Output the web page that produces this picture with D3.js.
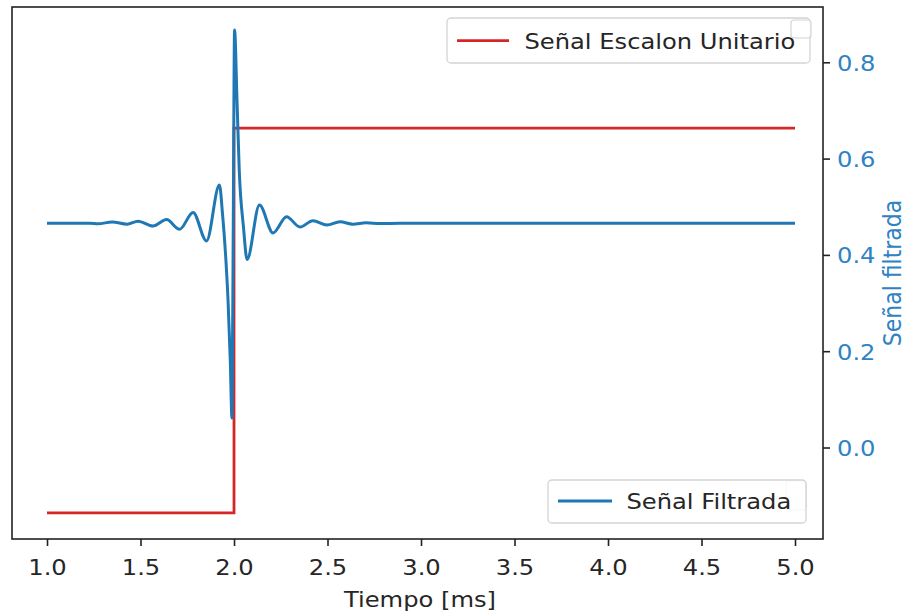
<!DOCTYPE html>
<html>
<head>
<meta charset="utf-8">
<script src="https://cdn.jsdelivr.net/npm/d3@7"></script>
<style>
  html, body { margin: 0; padding: 0; background: #fff; }
  svg { display: block; font-family: "DejaVu Sans", sans-serif; }
</style>
</head>
<body>
<svg id="chart" width="905" height="616"></svg>
<script>
// Time axis (ms)
const timeTicks = [1.0, 1.5, 2.0, 2.5, 3.0, 3.5, 4.0, 4.5, 5.0];
// Right axis ticks (filtered signal)
const filteredTicks = [0.0, 0.2, 0.4, 0.6, 0.8];

// Unit step input
const stepTime = [1.0, 2.0, 5.0];
const stepValue = [0, 1, 1];

// Filtered output (ringing around the step edge)
const filteredTime = [1.000, 1.230, 1.273, 1.348, 1.428, 1.487, 1.567, 1.639, 1.709, 1.781,
  1.853, 1.922, 1.939, 1.955, 1.968, 1.980, 1.989, 1.996, 2.003, 2.016, 2.028, 2.051, 2.070,
  2.136, 2.209, 2.281, 2.353, 2.422, 2.497, 2.567, 2.636, 2.706, 2.781, 2.888, 5.000];
const filteredValue = [0.4656, 0.4656, 0.4646, 0.4685, 0.4638, 0.4700, 0.4600, 0.4735, 0.4532, 0.4881,
  0.4289, 0.5452, 0.4829, 0.3998, 0.3063, 0.1817, 0.0613, 0.4642, 0.8671, 0.7217, 0.5763, 0.4559, 0.3904,
  0.5036, 0.4455, 0.4793, 0.4579, 0.4710, 0.4621, 0.4688, 0.4638, 0.4667, 0.4650, 0.4656, 0.4656];

const seriesLabels = ["Señal Escalon Unitario", "Señal Filtrada"];
const xLabel = "Tiempo [ms]";
const yRightLabel = "Señal filtrada";

const BLUE = "#1f77b4", RED = "#d62728", TXT = "#262626", BLUE_TXT = "#2f83c3";
const FONT = 22, STRETCH = 1.1;

const plot = { left: 12, right: 823, top: 7, bottom: 539 };
const svg = d3.select("#chart");

const x = d3.scaleLinear().domain([0.8128, 5.1497]).range([plot.left, plot.right]);
const yLeft = d3.scaleLinear().domain([-0.068, 1.315]).range([plot.bottom, plot.top]);
const yRight = d3.scaleLinear().domain([-0.19, 0.9148]).range([plot.bottom, plot.top]);

svg.append("defs").append("clipPath").attr("id", "plotclip")
  .append("rect").attr("x", plot.left).attr("y", plot.top)
  .attr("width", plot.right - plot.left).attr("height", plot.bottom - plot.top);

// Step signal (left axis)
const stepData = stepTime.map((t, i) => [t, stepValue[i]]);
svg.append("path").datum(stepData)
  .attr("clip-path", "url(#plotclip)")
  .attr("fill", "none").attr("stroke", RED).attr("stroke-width", 2.8)
  .attr("d", d3.line().x(d => x(d[0])).y(d => yLeft(d[1])).curve(d3.curveStepAfter));

// Legend of the step axis (upper right) and its empty companion box (lower right)
const leg1 = svg.append("g");
leg1.append("rect").attr("x", 447).attr("y", 18).attr("width", 363).attr("height", 45)
  .attr("rx", 4).attr("fill", "#fff").attr("fill-opacity", 0.8)
  .attr("stroke", "#d4d4d4").attr("stroke-width", 1.3);
leg1.append("line").attr("x1", 457).attr("x2", 509).attr("y1", 40.7).attr("y2", 40.7)
  .attr("stroke", RED).attr("stroke-width", 2.8);
leg1.append("text").attr("transform", `translate(524.5,48.5) scale(${STRETCH},1)`)
  .attr("font-size", FONT).attr("fill", TXT).text(seriesLabels[0]);
svg.append("rect").attr("x", 786).attr("y", 481).attr("width", 20).attr("height", 29)
  .attr("rx", 3).attr("fill", "none").attr("stroke", "#d4d4d4").attr("stroke-width", 1.2);

// Filtered signal (right axis)
const filteredData = filteredTime.map((t, i) => [t, filteredValue[i]]);
svg.append("path").datum(filteredData)
  .attr("clip-path", "url(#plotclip)")
  .attr("fill", "none").attr("stroke", BLUE).attr("stroke-width", 3)
  .attr("stroke-linejoin", "round")
  .attr("d", d3.line().x(d => x(d[0])).y(d => yRight(d[1])).curve(d3.curveMonotoneX));

// Legend of the filtered axis (lower right) and its empty companion box (upper right)
const leg2 = svg.append("g");
leg2.append("rect").attr("x", 548).attr("y", 480).attr("width", 258).attr("height", 43)
  .attr("rx", 4).attr("fill", "#fff").attr("fill-opacity", 0.8)
  .attr("stroke", "#d4d4d4").attr("stroke-width", 1.3);
leg2.append("line").attr("x1", 558).attr("x2", 612).attr("y1", 501).attr("y2", 501)
  .attr("stroke", BLUE).attr("stroke-width", 3);
leg2.append("text").attr("transform", `translate(626.5,508.5) scale(${STRETCH},1)`)
  .attr("font-size", FONT).attr("fill", TXT).text(seriesLabels[1]);
svg.append("rect").attr("x", 791).attr("y", 20).attr("width", 20).attr("height", 18)
  .attr("rx", 3).attr("fill", "#fff").attr("fill-opacity", 0.8)
  .attr("stroke", "#d4d4d4").attr("stroke-width", 1.2);

// Frame
svg.append("rect").attr("x", plot.left).attr("y", plot.top)
  .attr("width", plot.right - plot.left).attr("height", plot.bottom - plot.top)
  .attr("fill", "none").attr("stroke", "#222").attr("stroke-width", 1.6);

// Bottom axis
const xAxis = svg.append("g").attr("transform", `translate(0,${plot.bottom})`)
  .call(d3.axisBottom(x).tickValues(timeTicks).tickFormat(d3.format(".1f"))
    .tickSize(7).tickSizeOuter(0));
xAxis.select(".domain").remove();
xAxis.selectAll(".tick line").attr("stroke", "#222").attr("stroke-width", 1.6);
xAxis.selectAll(".tick text")
  .attr("y", 0).attr("dy", null)
  .attr("transform", `translate(0,36) scale(${STRETCH},1)`)
  .attr("font-size", FONT).attr("font-family", "DejaVu Sans").attr("fill", TXT);

// Right axis
const yAxis = svg.append("g").attr("transform", `translate(${plot.right},0)`)
  .call(d3.axisRight(yRight).tickValues(filteredTicks).tickFormat(d3.format(".1f"))
    .tickSize(7).tickSizeOuter(0));
yAxis.select(".domain").remove();
yAxis.selectAll(".tick line").attr("stroke", "#222").attr("stroke-width", 1.6);
yAxis.selectAll(".tick text")
  .attr("x", 0).attr("dy", "0.36em")
  .attr("transform", `translate(14,0) scale(${STRETCH},1)`)
  .attr("font-size", FONT).attr("font-family", "DejaVu Sans").attr("fill", BLUE_TXT);

// Axis titles
svg.append("text")
  .attr("transform", `translate(420,607) scale(${STRETCH},1)`)
  .attr("text-anchor", "middle").attr("font-size", FONT).attr("fill", TXT).text(xLabel);
svg.append("text")
  .attr("transform", `translate(901,273) rotate(-90) scale(1,${STRETCH})`)
  .attr("text-anchor", "middle").attr("font-size", FONT).attr("fill", BLUE_TXT).text(yRightLabel);
</script>
</body>
</html>
